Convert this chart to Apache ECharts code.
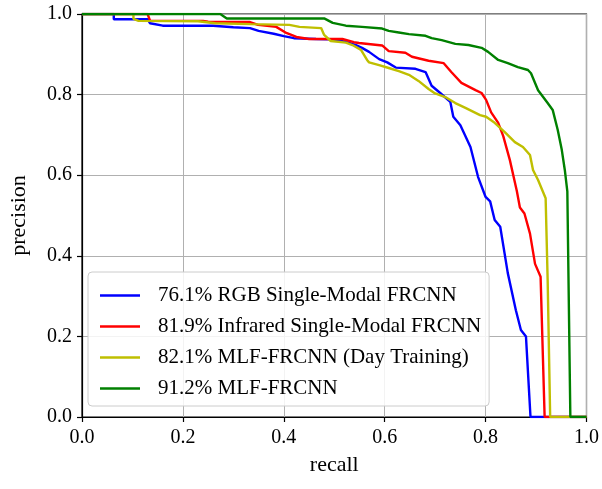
<!DOCTYPE html>
<html>
<head>
<meta charset="utf-8">
<script src="https://cdn.jsdelivr.net/npm/echarts@6/dist/echarts.min.js"></script>
<style>html,body{margin:0;padding:0;background:#fff;}#chart{width:602px;height:489px;}</style>
</head>
<body>
<div id="chart"></div>
<script>
const seriesNames = [
  '76.1% RGB Single-Modal FRCNN',
  '81.9% Infrared Single-Modal FRCNN',
  '82.1% MLF-FRCNN (Day Training)',
  '91.2% MLF-FRCNN'
];
const seriesColors = ['#0000ff', '#ff0000', '#bfbf00', '#008000'];
const xTicks = [0, 0.2, 0.4, 0.6, 0.8, 1.0];
const yTicks = [0, 0.2, 0.4, 0.6, 0.8, 1.0];

const rgbCurve = [[0,1],[0.063,1],[0.063,0.987],[0.13,0.987],[0.135,0.977],[0.16,0.971],[0.26,0.971],[0.3,0.967],[0.333,0.965],[0.35,0.958],[0.38,0.951],[0.40,0.945],[0.42,0.94],[0.464,0.938],[0.49,0.937],[0.523,0.931],[0.543,0.923],[0.555,0.916],[0.569,0.906],[0.589,0.888],[0.605,0.88],[0.622,0.867],[0.661,0.864],[0.681,0.856],[0.693,0.822],[0.71,0.804],[0.73,0.782],[0.736,0.745],[0.75,0.724],[0.77,0.67],[0.785,0.596],[0.8,0.546],[0.809,0.535],[0.818,0.489],[0.829,0.472],[0.844,0.357],[0.86,0.265],[0.87,0.216],[0.88,0.2],[0.889,0],[1,0]];
const infraredCurve = [[0,1],[0.13,1],[0.135,0.983],[0.24,0.983],[0.25,0.981],[0.333,0.98],[0.349,0.973],[0.385,0.968],[0.405,0.953],[0.425,0.943],[0.45,0.938],[0.516,0.938],[0.539,0.93],[0.549,0.928],[0.595,0.922],[0.608,0.908],[0.641,0.904],[0.654,0.894],[0.687,0.884],[0.717,0.878],[0.732,0.856],[0.752,0.829],[0.78,0.811],[0.792,0.804],[0.801,0.787],[0.811,0.756],[0.825,0.73],[0.835,0.697],[0.848,0.638],[0.862,0.56],[0.868,0.52],[0.877,0.505],[0.888,0.455],[0.898,0.38],[0.909,0.348],[0.917,0],[1,0]];
const dayCurve = [[0,1],[0.102,1],[0.102,0.988],[0.112,0.983],[0.23,0.982],[0.264,0.977],[0.333,0.975],[0.411,0.973],[0.431,0.968],[0.474,0.965],[0.48,0.948],[0.493,0.933],[0.523,0.929],[0.536,0.923],[0.553,0.911],[0.565,0.886],[0.569,0.88],[0.589,0.873],[0.608,0.866],[0.628,0.858],[0.648,0.849],[0.667,0.834],[0.687,0.814],[0.70,0.803],[0.72,0.794],[0.74,0.779],[0.76,0.767],[0.789,0.749],[0.801,0.745],[0.818,0.73],[0.838,0.707],[0.858,0.682],[0.874,0.67],[0.888,0.65],[0.894,0.613],[0.904,0.588],[0.919,0.543],[0.923,0.34],[0.928,0],[1,0]];
const mlfCurve = [[0,1],[0.274,1],[0.287,0.989],[0.48,0.989],[0.497,0.978],[0.523,0.971],[0.555,0.968],[0.595,0.964],[0.608,0.958],[0.628,0.954],[0.648,0.95],[0.681,0.946],[0.693,0.94],[0.713,0.935],[0.74,0.926],[0.766,0.923],[0.792,0.916],[0.805,0.906],[0.825,0.886],[0.844,0.878],[0.864,0.868],[0.884,0.861],[0.89,0.853],[0.904,0.811],[0.923,0.779],[0.933,0.762],[0.943,0.712],[0.951,0.663],[0.957,0.613],[0.962,0.56],[0.968,0],[1,0]];

const curves = [rgbCurve, infraredCurve, dayCurve, mlfCurve];
const FONT = '"Liberation Serif", "Times New Roman", serif';

const chart = echarts.init(document.getElementById('chart'), null, {renderer: 'canvas'});
const axisCommon = {
  type: 'value', min: 0, max: 1, interval: 0.2,
  axisLine: {show: true, onZero: false, lineStyle: {color: '#000', width: 1.2}},
  axisTick: {show: true, inside: false, length: 5, lineStyle: {color: '#000', width: 1.2}},
  axisLabel: {color: '#000', fontFamily: FONT, fontSize: 20, formatter: v => v.toFixed(1)},
  splitLine: {show: true, lineStyle: {color: '#b0b0b0', width: 1}},
  nameTextStyle: {color: '#000', fontFamily: FONT, fontSize: 22},
  nameLocation: 'middle'
};
chart.setOption({
  animation: false,
  backgroundColor: '#fff',
  grid: {left: 81, right: 13, top: 14, bottom: 72, show: true, borderColor: '#000', borderWidth: 1.2, backgroundColor: 'transparent'},
  xAxis: Object.assign({}, axisCommon, {name: 'recall', nameGap: 37,
    axisLabel: Object.assign({}, axisCommon.axisLabel, {margin: 11})}),
  yAxis: Object.assign({}, axisCommon, {name: 'precision', nameGap: 52,
    axisLabel: Object.assign({}, axisCommon.axisLabel, {margin: 10})}),
  legend: {
    orient: 'vertical', left: 88, top: 272,
    data: seriesNames,
    icon: 'rect',
    itemWidth: 40, itemHeight: 2.6, itemGap: 10,
    padding: [13, 8, 7, 12],
    backgroundColor: 'rgba(255,255,255,0.85)',
    borderColor: '#cccccc', borderWidth: 1, borderRadius: 4,
    textStyle: {color: '#000', fontFamily: FONT, fontSize: 21, lineHeight: 21, padding: [0, 0, 0, 13]}
  },
  series: curves.map((c, i) => ({
    name: seriesNames[i], type: 'line', data: c,
    symbol: 'none', showSymbol: false, clip: true,
    lineStyle: {color: seriesColors[i], width: 2.4},
    itemStyle: {color: seriesColors[i]},
    z: 2 + i
  }))
});
</script>
</body>
</html>
